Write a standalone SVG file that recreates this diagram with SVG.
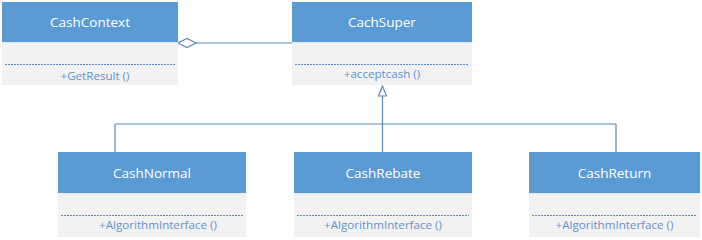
<svg xmlns="http://www.w3.org/2000/svg" width="702" height="240" viewBox="0 0 702 240">
  <style>
    .head { fill: #5B9BD5; }
    .body { fill: #F2F2F2; }
    .sep { stroke: #DDEBF7; stroke-width: 1; }
    .dash { stroke: #5B8FC9; stroke-width: 1; stroke-dasharray: 2 1; fill: none; }
    .title { font-family: "Open Sans", "Noto Sans", sans-serif; font-size: 13.5px; fill: #FFFFFF; text-anchor: middle; }
    .op { font-family: "Open Sans", "Noto Sans", sans-serif; font-size: 11.6px; fill: #5E93CC; text-anchor: middle; }
    .link { stroke: #5B8AB8; stroke-width: 1.2; fill: none; }
  </style>

  <!-- connectors: aggregation and generalisation -->
  <g id="connectors">
    <line class="link" x1="196" y1="43" x2="292" y2="43"/>
    <polygon class="link" fill="#FFFFFF" points="178,43 187,38.5 196,43 187,47.5"/>
    <line class="link" x1="115" y1="124" x2="616" y2="124"/>
    <line class="link" x1="115" y1="124" x2="115" y2="152"/>
    <line class="link" x1="616" y1="124" x2="616" y2="152"/>
    <line class="link" x1="382.5" y1="96" x2="382.5" y2="152"/>
    <polygon class="link" stroke-width="1.6" fill="#FFFFFF" points="382.5,86 378.5,96 386.5,96"/>
  </g>

  <g id="CashContext">
    <rect class="head" x="2" y="2" width="176" height="40"/>
    <rect class="body" x="2" y="42" width="176" height="43"/>
    <line class="sep" x1="2" y1="42.5" x2="178" y2="42.5"/>
    <line class="dash" x1="5" y1="64.5" x2="175" y2="64.5"/>
    <text class="title" x="90" y="27">CashContext</text>
    <text class="op" x="95" y="80">+GetResult ()</text>
  </g>

  <g id="CachSuper">
    <rect class="head" x="292" y="2" width="180" height="40"/>
    <rect class="body" x="292" y="42" width="180" height="43"/>
    <line class="sep" x1="292" y1="42.5" x2="472" y2="42.5"/>
    <line class="dash" x1="295" y1="64.5" x2="469" y2="64.5"/>
    <text class="title" x="382" y="27">CachSuper</text>
    <text class="op" x="382" y="78">+acceptcash ()</text>
  </g>

  <g id="CashNormal">
    <rect class="head" x="58" y="152" width="188" height="41"/>
    <rect class="body" x="58" y="193" width="188" height="44"/>
    <line class="sep" x1="58" y1="193.5" x2="246" y2="193.5"/>
    <line class="dash" x1="61" y1="215.5" x2="243" y2="215.5"/>
    <text class="title" x="152" y="178">CashNormal</text>
    <text class="op" x="158" y="229">+AlgorithmInterface ()</text>
  </g>

  <g id="CashRebate">
    <rect class="head" x="294" y="152" width="178" height="41"/>
    <rect class="body" x="294" y="193" width="178" height="44"/>
    <line class="sep" x1="294" y1="193.5" x2="472" y2="193.5"/>
    <line class="dash" x1="297" y1="215.5" x2="469" y2="215.5"/>
    <text class="title" x="383" y="178">CashRebate</text>
    <text class="op" x="383" y="229">+AlgorithmInterface ()</text>
  </g>

  <g id="CashReturn">
    <rect class="head" x="529" y="152" width="171" height="41"/>
    <rect class="body" x="529" y="193" width="171" height="44"/>
    <line class="sep" x1="529" y1="193.5" x2="700" y2="193.5"/>
    <line class="dash" x1="532" y1="215.5" x2="697" y2="215.5"/>
    <text class="title" x="614.5" y="178">CashReturn</text>
    <text class="op" x="614.5" y="229">+AlgorithmInterface ()</text>
  </g>
</svg>
